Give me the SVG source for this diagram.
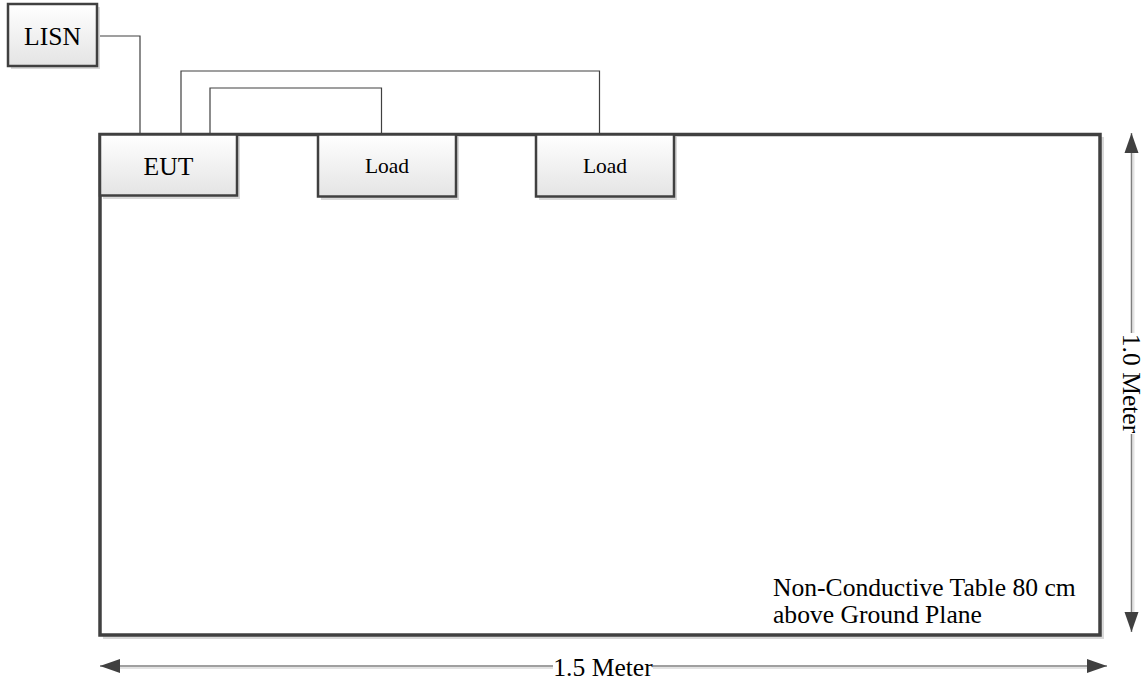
<svg xmlns="http://www.w3.org/2000/svg" width="1144" height="684" viewBox="0 0 1144 684" font-family="'Liberation Serif', 'Times New Roman', Times, 'DejaVu Serif', serif">
<defs>
<linearGradient id="boxfill" x1="0" y1="0" x2="0" y2="1">
<stop offset="0" stop-color="#ffffff"/>
<stop offset="1" stop-color="#e4e4e4"/>
</linearGradient>
<marker id="arrS" markerUnits="userSpaceOnUse" markerWidth="22" markerHeight="16" refX="0" refY="7" orient="auto">
<path d="M0,7 L20,0 L20,14 Z" fill="#404040"/>
</marker>
<marker id="arrE" markerUnits="userSpaceOnUse" markerWidth="22" markerHeight="16" refX="20" refY="7" orient="auto">
<path d="M20,7 L0,0 L0,14 Z" fill="#404040"/>
</marker>
</defs>
<style>
.shadow{fill:#d9d9d9;stroke:none}
.box{fill:url(#boxfill);stroke:#404040;stroke-width:2.5}
.table{fill:#ffffff;stroke:#404040;stroke-width:3.5}
.wire{fill:none;stroke:#404040;stroke-width:1.2}
.dim{fill:none;stroke:#7f7f7f;stroke-width:1.5}
.dimsh{fill:none;stroke:#e3e3e3;stroke-width:2}
.lbl{font-family:'Liberation Serif','Times New Roman',Times,'DejaVu Serif',serif;font-size:25.6px;fill:#000}
.lbls{font-family:'Liberation Serif','Times New Roman',Times,'DejaVu Serif',serif;font-size:21.5px;fill:#000}
</style>
<g id="table">
<rect class="shadow" x="103" y="137" width="1001" height="502"/>
<rect class="table" x="100" y="134.5" width="1000" height="500.5"/>
<text class="lbl" x="773" y="596">Non-Conductive Table 80 cm</text>
<text class="lbl" x="773" y="623">above Ground Plane</text>
</g>
<g id="connectors">
<path class="wire" d="M97,36 H140 V134"/>
<path class="wire" d="M181,134 V71 H599.5 V134"/>
<path class="wire" d="M210,134 V88 H381.5 V134"/>
</g>
<g id="lisn">
<rect class="shadow" x="11" y="7" width="89" height="62"/>
<rect class="box" x="8" y="4" width="89" height="62"/>
<text class="lbl" x="52.5" y="45" text-anchor="middle">LISN</text>
</g>
<g id="eut">
<rect class="shadow" x="103" y="137" width="137" height="62"/>
<rect class="box" x="100" y="134.5" width="137" height="61"/>
<text class="lbl" x="168.5" y="175" text-anchor="middle">EUT</text>
</g>
<g id="load1">
<rect class="shadow" x="321" y="137" width="138" height="63"/>
<rect class="box" x="318" y="134.5" width="138" height="62"/>
<text class="lbls" x="387" y="172.5" text-anchor="middle">Load</text>
</g>
<g id="load2">
<rect class="shadow" x="539" y="137" width="138" height="63"/>
<rect class="box" x="536" y="134.5" width="138" height="62"/>
<text class="lbls" x="605" y="172.5" text-anchor="middle">Load</text>
</g>
<g id="dim-vertical">
<line class="dimsh" x1="1133.5" y1="150" x2="1133.5" y2="333"/>
<line class="dimsh" x1="1133.5" y1="434" x2="1133.5" y2="618"/>
<line class="dim" x1="1131.5" y1="133" x2="1131.5" y2="333" marker-start="url(#arrS)"/>
<line class="dim" x1="1131.5" y1="434" x2="1131.5" y2="632" marker-end="url(#arrE)"/>
<text class="lbl" transform="translate(1123,383.5) rotate(90)" text-anchor="middle">1.0 Meter</text>
</g>
<g id="dim-horizontal">
<line class="dimsh" x1="118" y1="668" x2="553" y2="668"/>
<line class="dimsh" x1="653" y1="668" x2="1090" y2="668"/>
<line class="dim" x1="100" y1="666" x2="553" y2="666" marker-start="url(#arrS)"/>
<line class="dim" x1="653" y1="666" x2="1107" y2="666" marker-end="url(#arrE)"/>
<text class="lbl" x="603" y="676" text-anchor="middle">1.5 Meter</text>
</g>
</svg>
